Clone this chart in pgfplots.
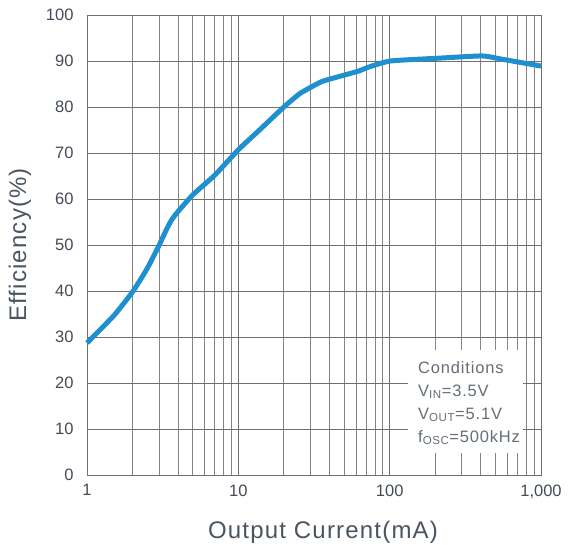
\documentclass[border=0pt]{standalone}
\usepackage{pgfplots}
\pgfplotsset{compat=1.18}
\usepackage{fontspec}
\setmainfont{Liberation Sans}
\newfontfamily\spaced[LetterSpace=5]{Liberation Sans}
\definecolor{curve}{HTML}{1E90D0}
\definecolor{txt}{HTML}{4A5560}
\definecolor{gridc}{HTML}{707070}
\begin{document}
\begin{tikzpicture}[x=1bp,y=1bp]
\begin{axis}[
  scale only axis,
  width=454bp, height=460bp,
  xmode=log,
  xmin=1, xmax=1000, ymin=0, ymax=100,
  xtick={1,10,100,1000},
  xticklabels={1,10,100,{1,000}},
  ytick={0,10,...,100},
  minor xtick={2,3,4,5,6,7,8,9,20,30,40,50,60,70,80,90,200,300,400,500,600,700,800,900},
  grid=both,
  major grid style={gridc, line width=0.9bp},
  minor grid style={gridc!85, line width=0.9bp},
  axis line style={gridc, line width=0.9bp},
  major tick length=0pt, minor tick length=0pt,
  tick label style={font=\fontsize{16.5bp}{19bp}\selectfont, text=txt!90!black},
  /pgf/number format/assume math mode=true,
  xticklabel style={yshift=-6bp},
  yticklabel style={xshift=-10bp},
  xlabel={Output Current(mA)},
  ylabel={Efficiency(\%)},
  label style={font=\spaced\fontsize{24bp}{26bp}\selectfont, text=txt},
  xlabel style={yshift=-16bp, xshift=9bp},
  ylabel style={yshift=8bp},
  clip=false,
]
\addplot[curve, line width=5bp, smooth, tension=0.3] coordinates {
(1,28.7) (1.5,34.6) (2,39.8) (2.5,44.9) (3,50) (3.4,53.8) (3.65,55.6) (4,57.3) (5,60.9) (7,65.2) (10,70.7) (13.8,75) (20,80) (25.7,83) (34.9,85.4) (40.6,86.1) (62.3,87.8) (71.5,88.6) (101,90) (207,90.6) (409,91.1) (550,90.4) (1000,88.9)
};
\node[fill=white, inner sep=0pt, minimum width=115bp, minimum height=103bp, anchor=south west] at (rel axis cs:0.707,0.048) {};
\node[anchor=north west, align=left, text=txt!85, font=\spaced\fontsize{16.5bp}{23bp}\selectfont, inner sep=0pt] at (rel axis cs:0.729,0.248) {Conditions\\V\textsubscript{IN}=3.5V\\V\textsubscript{OUT}=5.1V\\f\textsubscript{OSC}=500kHz};
\coordinate (SW) at (rel axis cs:0,0);
\coordinate (NE) at (rel axis cs:1,1);
\end{axis}
\pgfresetboundingbox
\path[use as bounding box] ([xshift=-87bp,yshift=-70bp]SW) rectangle ([xshift=28bp,yshift=15bp]NE);
\end{tikzpicture}
\end{document}
